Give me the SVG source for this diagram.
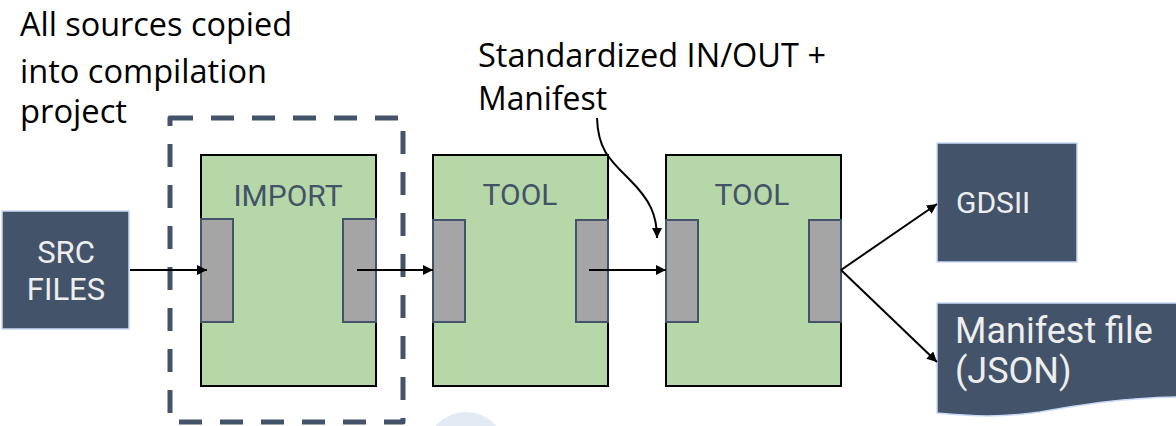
<svg xmlns="http://www.w3.org/2000/svg" width="1176" height="426" viewBox="0 0 1176 426">
<defs>
<style>
.dark{fill:#435369;stroke:#c9daf8;stroke-width:1.5}
.blk{fill:#b6d7a8;stroke:#000;stroke-width:2}
.port{fill:#a5a5a5;stroke:#435369;stroke-width:2}
.lbl{font-family:Roboto,"Liberation Sans",sans-serif;fill:#435369;font-size:30px;text-anchor:middle}
.wt{font-family:Roboto,"Liberation Sans",sans-serif;fill:#eeeeee}
.note{font-family:"Open Sans","Liberation Sans",sans-serif;fill:#000;font-size:32px}
.conn{fill:none;stroke:#000;stroke-width:2}
</style>
<marker id="ah" viewBox="0 0 10 10" refX="10" refY="5" markerWidth="5" markerHeight="5" orient="auto" markerUnits="strokeWidth">
<path d="M0,0 L10,5 L0,10 z" fill="#000"/>
</marker>
</defs>
<rect width="1176" height="426" fill="#fff"/>
<circle cx="466" cy="452" r="40" fill="#e2eaf4"/>
<g id="note-sources">
<text class="note" x="20" y="36" textLength="272" lengthAdjust="spacingAndGlyphs">All sources copied</text>
<text class="note" x="20" y="83" textLength="247" lengthAdjust="spacingAndGlyphs">into compilation</text>
<text class="note" x="20" y="123" textLength="107" lengthAdjust="spacingAndGlyphs">project</text>
</g>
<g id="note-standard">
<text class="note" x="478" y="67" textLength="348" lengthAdjust="spacingAndGlyphs">Standardized IN/OUT +</text>
<text class="note" x="478" y="110" textLength="129" lengthAdjust="spacingAndGlyphs">Manifest</text>
</g>
<g id="src">
<rect class="dark" x="2" y="211" width="127" height="118"/>
<text class="wt" x="66" y="263" font-size="31" text-anchor="middle">SRC</text>
<text class="wt" x="66" y="300" font-size="31" text-anchor="middle">FILES</text>
</g>
<g id="import-group">
<rect x="170" y="118" width="233" height="304" fill="none" stroke="#435369" stroke-width="5" stroke-dasharray="23 18" stroke-linejoin="round"/>
</g>
<g id="import">
<rect class="blk" x="201" y="155" width="175" height="231"/>
<rect class="port" x="201" y="219" width="32" height="103"/>
<rect class="port" x="343" y="219" width="33" height="103"/>
<text class="lbl" x="288" y="206">IMPORT</text>
</g>
<g id="tool1">
<rect class="blk" x="433" y="155" width="175" height="231"/>
<rect class="port" x="433" y="220" width="32" height="102"/>
<rect class="port" x="576" y="220" width="32" height="102"/>
<text class="lbl" x="520" y="205">TOOL</text>
</g>
<g id="tool2">
<rect class="blk" x="666" y="155" width="175" height="231"/>
<rect class="port" x="666" y="220" width="32" height="102"/>
<rect class="port" x="809" y="220" width="32" height="102"/>
<text class="lbl" x="752" y="205">TOOL</text>
</g>
<g id="gdsii">
<rect class="dark" x="937" y="143" width="140" height="119"/>
<text class="wt" x="956" y="213" font-size="30">GDSII</text>
</g>
<g id="manifest">
<path class="dark" d="M937,303 L1177,303 L1177,397 C1120,398 1080,405 1040,412 C1000,418 970,416 937,413 Z"/>
<text class="wt" x="955" y="343" font-size="36">Manifest file</text>
<text class="wt" x="955" y="383" font-size="36">(JSON)</text>
</g>
<g id="connectors">
<path class="conn" d="M130,270 L207,270" marker-end="url(#ah)"/>
<path class="conn" d="M357,270 L433,270" marker-end="url(#ah)"/>
<path class="conn" d="M589,270 L666,270" marker-end="url(#ah)"/>
<path class="conn" d="M841,270 L937,204" marker-end="url(#ah)"/>
<path class="conn" d="M841,270 L937,362" marker-end="url(#ah)"/>
<path class="conn" d="M597,118 C598,150 610,160 630,180 C650,200 657,215 657,238" marker-end="url(#ah)"/>
</g>
</svg>
